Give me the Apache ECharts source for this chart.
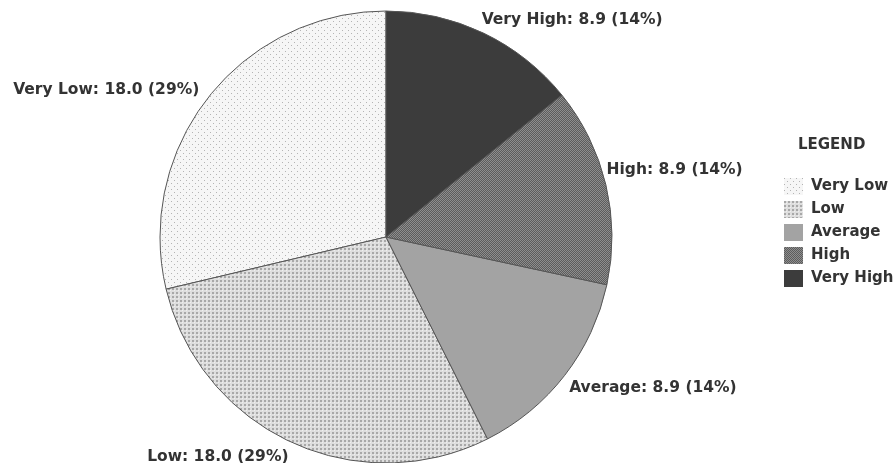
<!DOCTYPE html>
<html><head><meta charset="utf-8">
<script src="https://cdn.jsdelivr.net/npm/echarts@6/dist/echarts.min.js"></script>
<style>html,body{margin:0;padding:0;background:#fff}#c{width:895px;height:463px}</style>
</head><body><div id="c"></div>
<script>
var categories = ['Very Low', 'Low', 'Average', 'High', 'Very High'];
var values = [18.0, 18.0, 8.9, 8.9, 8.9];
var percentLabels = ['29%', '29%', '14%', '14%', '14%'];

// small label nudges (style offsets, px) to match the reference label placement
var labelNudgeX = [5, 8, -10, -16, -12];
var labelNudgeY = [1, 4, 5, -12, -2];

function pat(size, bg, draw) {
  var c = document.createElement('canvas');
  c.width = size; c.height = size;
  var g = c.getContext('2d');
  g.fillStyle = bg; g.fillRect(0, 0, size, size);
  draw(g);
  return { image: c, repeat: 'repeat' };
}
var fills = [
  pat(6, '#f6f6f6', function (g) { g.fillStyle = '#b4b4b4'; g.fillRect(0, 0, 1, 1); g.fillRect(3, 3, 1, 1); }),
  pat(4, '#dedede', function (g) { g.fillStyle = '#a8a8a8'; g.fillRect(0, 0, 2, 2); g.fillStyle = '#efefef'; g.fillRect(2, 2, 1, 1); }),
  '#a3a3a3',
  pat(2, '#5c5c5c', function (g) { g.fillStyle = '#8e8e8e'; g.fillRect(0, 0, 1, 1); g.fillRect(1, 1, 1, 1); }),
  '#3c3c3c'
];

var data = categories.map(function (n, i) {
  return { name: n, value: values[i], pct: percentLabels[i], itemStyle: { color: fills[i] } };
});

var FONT = { fontFamily: 'DejaVu Sans', fontWeight: 'bold', fontSize: 15.5, color: '#333' };

var chart = echarts.init(document.getElementById('c'));
chart.setOption({
  animation: false,
  textStyle: { fontFamily: 'DejaVu Sans' },
  legend: {
    orient: 'vertical',
    left: 784, top: 178, padding: 0,
    itemWidth: 19, itemHeight: 17, itemGap: 6,
    icon: 'rect',
    data: categories,
    itemStyle: { borderWidth: 0 },
    textStyle: { fontFamily: 'DejaVu Sans', fontWeight: 'bold', fontSize: 15, color: '#333', lineHeight: 17, padding: [0, 0, 0, 3] }
  },
  title: {
    text: 'LEGEND', left: 798, top: 138, padding: 0,
    textStyle: { fontFamily: 'DejaVu Sans', fontWeight: 'bold', fontSize: 15, color: '#333' }
  },
  series: [{
    type: 'pie',
    center: [386, 237],
    radius: [0, 226],
    clockwise: false,
    startAngle: 90,
    data: data,
    itemStyle: { borderColor: '#555', borderWidth: 1 },
    emphasis: { disabled: true },
    label: Object.assign({
      position: 'outside',
      overflow: 'none',
      formatter: function (p) { return p.name + ': ' + p.value.toFixed(1) + ' (' + p.data.pct + ')'; }
    }, FONT),
    labelLine: { show: false, length: 12, length2: 0 },
    labelLayout: function (p) {
      return { dx: labelNudgeX[p.dataIndex], dy: labelNudgeY[p.dataIndex] };
    }
  }]
});
</script></body></html>
